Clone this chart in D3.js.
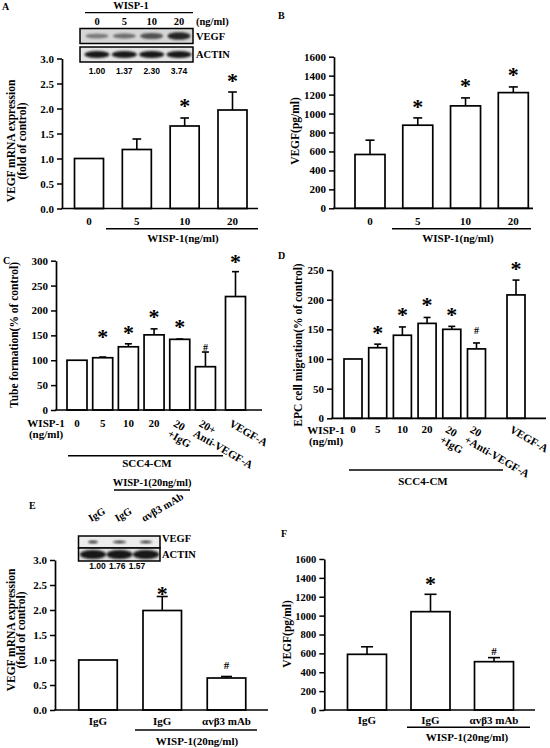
<!DOCTYPE html>
<html><head><meta charset="utf-8">
<script src="https://cdn.jsdelivr.net/npm/d3@7"></script>
<style>
body{margin:0;background:#fff}
svg text{font-family:"Liberation Serif","Times New Roman",serif;font-weight:bold;fill:#000}
svg text.sans{font-family:"Liberation Sans",Arial,sans-serif}
</style>
</head><body>
<svg id="chart" width="550" height="748"></svg>
<script>
// ---------------- DATA ----------------
// Panel A
const aCategories = ["0","5","10","20"];
const aValues = [1.00,1.18,1.65,1.97];
const aErrors = [0,0.21,0.16,0.36];
const aMarks = ["","","*","*"];
const aMarkY = [null,null,2.13,2.63];
const aYTicks = [0,0.5,1.0,1.5,2.0,2.5,3.0];
const aBlotLanes = ["0","5","10","20"];
const aBlotRatios = [1.00,1.37,2.30,3.74];
// Panel B
const bCategories = ["0","5","10","20"];
const bValues = [568,877,1081,1221];
const bErrors = [151,77,84,60];
const bMarks = ["","*","*","*"];
const bMarkY = [null,1108,1329,1445];
const bYTicks = [0,200,400,600,800,1000,1200,1400,1600];
// Panel C
const cCategories = [["0"],["5"],["10"],["20"],["20","+IgG"],["20+","Anti-VEGF-A"],["VEGF-A"]];
const cValues = [100,105,127,151,142,87,228];
const cErrors = [0,1.5,6,12,0.6,29.5,50];
const cMarks = ["","*","*","*","*","#","*"];
const cMarkY = [null,154.7,162.7,194.3,174.2,126,304.8];
const cYTicks = [0,50,100,150,200,250,300];
// Panel D
const dCategories = [["0"],["5"],["10"],["20"],["20","+IgG"],["20","+Anti-VEGF-A"],["VEGF-A"]];
const dValues = [100,119,140,160,150,117,208];
const dErrors = [0,6,14,10,5,10,25];
const dMarks = ["","*","*","*","*","#","*"];
const dMarkY = [null,149,180,197,180,149,258];
const dYTicks = [0,50,100,150,200,250];
// Panel E
const eCategories = ["IgG","IgG","αvβ3 mAb"];
const eValues = [1.00,1.99,0.64];
const eErrors = [0,0.28,0.03];
const eMarks = ["","*","#"];
const eMarkY = [null,2.4,0.9];
const eYTicks = [0,0.5,1.0,1.5,2.0,2.5,3.0];
const eBlotLanes = ["IgG","IgG","αvβ3 mAb"];
const eBlotRatios = [1.00,1.76,1.57];
// Panel F
const fCategories = ["IgG","IgG","αvβ3 mAb"];
const fValues = [590,1042,512];
const fErrors = [80,184,43];
const fMarks = ["","*","#"];
const fMarkY = [null,1377,625];
const fYTicks = [0,200,400,600,800,1000,1200,1400,1600];

// ---------------- DRAWING ----------------
const svg = d3.select("#chart");
const defs = svg.append("defs");
defs.append("filter").attr("id","blur").attr("x","-50%").attr("y","-50%").attr("width","200%").attr("height","200%")
  .append("feGaussianBlur").attr("stdDeviation",0.9);

function barPanel(o){
  const g = svg.append("g");
  const y = d3.scaleLinear().domain([0, o.yMax]).range([o.y0, o.yTop]);
  const n = o.values.length;
  const slots = d3.range(n).map(i => i + (i === n-1 ? (o.lastGap||0) : 0));
  const x = d3.scaleLinear().domain([0, slots[n-1]]).range([o.xFirst, o.xLast]);
  const px = i => x(slots[i]);
  const bw = o.barW;

  // bars
  g.selectAll("rect.bar").data(o.values).join("rect")
    .attr("x",(d,i)=>px(i)-bw/2).attr("y",d=>y(d))
    .attr("width",bw).attr("height",d=>o.y0-y(d))
    .attr("fill","#fff").attr("stroke","#000").attr("stroke-width",1.7);

  // error bars
  const cap = o.capW || bw*0.3;
  const eg = g.selectAll("g.err").data(o.values.map((v,i)=>({v,e:o.errors[i],i})).filter(d=>d.e>0)).join("g");
  eg.append("line").attr("x1",d=>px(d.i)).attr("x2",d=>px(d.i)).attr("y1",d=>y(d.v)).attr("y2",d=>y(d.v+d.e))
    .attr("stroke","#000").attr("stroke-width",1.6);
  eg.append("line").attr("x1",d=>px(d.i)-cap/2).attr("x2",d=>px(d.i)+cap/2).attr("y1",d=>y(d.v+d.e)).attr("y2",d=>y(d.v+d.e))
    .attr("stroke","#000").attr("stroke-width",1.6);

  // marks
  g.selectAll("text.mark").data(o.marks.map((m,i)=>({m,i,yv:o.markY[i]})).filter(d=>d.m)).join("text")
    .attr("text-anchor","middle")
    .attr("x",d=>px(d.i))
    .attr("y",d=> d.m==="*" ? y(d.yv)+0.48*o.starSize : y(d.yv)+0.36*o.hashSize)
    .style("font-size",d=>(d.m==="*"?o.starSize:o.hashSize)+"px")
    .style("font-weight","bold")
    .text(d=>d.m);

  // y axis
  const ya = d3.axisLeft(y).tickValues(o.yTicks).tickSize(5).tickSizeOuter(0).tickPadding(3)
    .tickFormat(o.tickFmt);
  const yg = g.append("g").attr("transform",`translate(${o.axisX},0)`).call(ya);
  yg.select(".domain").attr("stroke","#000").attr("stroke-width",1.7);
  yg.selectAll(".tick line").attr("stroke","#000").attr("stroke-width",1.5);
  yg.selectAll(".tick text").attr("fill","#000").style("font-family",'"Liberation Serif",serif')
    .style("font-weight","bold").style("font-size",o.tickSize+"px");

  // x axis line
  g.append("line").attr("x1",o.axisX-0.8).attr("x2",o.xEnd).attr("y1",o.y0).attr("y2",o.y0)
    .attr("stroke","#000").attr("stroke-width",1.7);

  // y title
  const yt = g.append("text").attr("text-anchor","middle")
    .attr("transform",`translate(${o.titleX},${o.titleY}) rotate(-90)`)
    .style("font-size",o.titleSize+"px");
  o.yTitle.forEach((t,k)=>{
    yt.append("tspan").attr("x",0).attr("y", k*o.titleLine + 4).text(t);
  });

  // panel letter
  g.append("text").attr("x",o.letter[0]).attr("y",o.letter[1]).style("font-size","10px").text(o.letter[2]);

  return {g,x,y,px};
}

// ---- Blot helper ----
function blotRow(g, x0, y0, w, h, bg){
  g.append("rect").attr("x",x0).attr("y",y0).attr("width",w).attr("height",h)
    .attr("fill",bg).attr("stroke","#000").attr("stroke-width",1.5);
}
function band(g, cx, cy, w, h, color, op){
  g.append("ellipse").attr("cx",cx).attr("cy",cy).attr("rx",w/2).attr("ry",h/2)
    .attr("fill",color).attr("opacity",op).attr("filter","url(#blur)");
}

// ================= Panel A =================
const A = barPanel({
  values:aValues, errors:aErrors, marks:aMarks, markY:aMarkY, yTicks:aYTicks, yMax:3,
  y0:208.5, yTop:58.5, axisX:62, xFirst:89, xLast:232.5, barW:29, xEnd:258,
  tickFmt:d3.format(".1f"), tickSize:11, starSize:22, hashSize:11,
  yTitle:["VEGF mRNA expression","(fold of control)"], titleX:11, titleY:141, titleLine:10.5, titleSize:11.5,
  letter:[2,10,"A"]
});
A.g.selectAll("text.xl").data(aCategories).join("text").attr("text-anchor","middle")
  .attr("x",(d,i)=>A.px(i)).attr("y",224.5).style("font-size","11px").text(d=>d);
A.g.append("line").attr("x1",106).attr("x2",258).attr("y1",228.7).attr("y2",228.7).attr("stroke","#000").attr("stroke-width",1.5);
A.g.append("text").attr("text-anchor","middle").attr("x",183).attr("y",241.5).style("font-size","11px").text("WISP-1(ng/ml)");
// A blot
{
  const g = A.g;
  const laneX = d3.scalePoint().domain(aBlotLanes).range([97,179]);
  g.append("text").attr("text-anchor","middle").attr("x",131).attr("y",9).style("font-size","10.5px").text("WISP-1");
  g.append("line").attr("x1",85).attr("x2",193).attr("y1",12.7).attr("y2",12.7).attr("stroke","#000").attr("stroke-width",1.3);
  g.selectAll("text.bl").data(aBlotLanes).join("text").attr("text-anchor","middle")
    .attr("x",d=>laneX(d)).attr("y",24.5).style("font-size","10.5px").text(d=>d);
  g.append("text").attr("x",196).attr("y",24.5).style("font-size","10.5px").text("(ng/ml)");
  blotRow(g,80,28.5,113,15,"#d6d6d6");
  aBlotLanes.forEach((l,i)=> band(g, laneX(l), 36, 23, 3.5+aBlotRatios[i]*1.1, "#1a1a1a", 0.35+0.16*aBlotRatios[i]));
  blotRow(g,80,47,113,15,"#e4e4e4");
  aBlotLanes.forEach((l,i)=> band(g, laneX(l), 54.5, 25, 7, "#0a0a0a", 0.95));
  g.append("text").attr("x",196).attr("y",40).style("font-size","10.5px").text("VEGF");
  g.append("text").attr("x",196).attr("y",58).style("font-size","10.5px").text("ACTIN");
  g.selectAll("text.br").data(aBlotRatios).join("text").attr("class","sans").attr("text-anchor","middle")
    .attr("x",(d,i)=>laneX(aBlotLanes[i])).attr("y",74).style("font-size","8.5px").text(d=>d.toFixed(2));
}

// ================= Panel B =================
const B = barPanel({
  values:bValues, errors:bErrors, marks:bMarks, markY:bMarkY, yTicks:bYTicks, yMax:1600,
  y0:208.3, yTop:56.7, axisX:334, xFirst:370, xLast:513.3, barW:30, xEnd:533,
  tickFmt:d3.format("d"), tickSize:11, starSize:22, hashSize:11,
  yTitle:["VEGF(pg/ml)"], titleX:295, titleY:131, titleLine:10.5, titleSize:11.5,
  letter:[278,18.5,"B"]
});
B.g.selectAll("text.xl").data(bCategories).join("text").attr("text-anchor","middle")
  .attr("x",(d,i)=>B.px(i)).attr("y",224.5).style("font-size","11px").text(d=>d);
B.g.append("line").attr("x1",392).attr("x2",531).attr("y1",228.7).attr("y2",228.7).attr("stroke","#000").attr("stroke-width",1.5);
B.g.append("text").attr("text-anchor","middle").attr("x",458).attr("y",241.5).style("font-size","11px").text("WISP-1(ng/ml)");

// ============ helper for C / D x labels ============
function multiLabels(P, cats, yBase, rotFrom, fs){
  cats.forEach((lines,i)=>{
    if(i < rotFrom){
      P.g.append("text").attr("text-anchor","middle").attr("x",P.px(i)).attr("y",yBase).style("font-size",fs+"px").text(lines[0]);
    } else {
      const t = P.g.append("text").attr("transform",`translate(${P.px(i)-3},${yBase-8}) rotate(30)`).style("font-size",fs+"px");
      lines.forEach((l,k)=> t.append("tspan").attr("x", 0).attr("dy", k===0 ? "0.75em" : "1.05em").text(l));
    }
  });
}

// ================= Panel C =================
const C = barPanel({
  values:cValues, errors:cErrors, marks:cMarks, markY:cMarkY, yTicks:cYTicks, yMax:300,
  y0:410, yTop:260.7, axisX:56, xFirst:77, xLast:235.5, barW:20, xEnd:262, lastGap:0.17, capW:7,
  tickFmt:d3.format("d"), tickSize:11, starSize:22, hashSize:10,
  yTitle:["Tube formation(% of control)"], titleX:14, titleY:335, titleLine:10.5, titleSize:11.5,
  letter:[3,263.5,"C"]
});
multiLabels(C, cCategories, 426.5, 4, 11);
C.g.append("text").attr("text-anchor","middle").attr("x",46).attr("y",426.5).style("font-size","11px").text("WISP-1");
C.g.append("text").attr("text-anchor","middle").attr("x",46).attr("y",437.5).style("font-size","11px").text("(ng/ml)");
C.g.append("line").attr("x1",68).attr("x2",223).attr("y1",455.7).attr("y2",455.7).attr("stroke","#000").attr("stroke-width",1.5);
C.g.append("text").attr("text-anchor","middle").attr("x",147).attr("y",467).style("font-size","11px").text("SCC4-CM");

// ================= Panel D =================
const D = barPanel({
  values:dValues, errors:dErrors, marks:dMarks, markY:dMarkY, yTicks:dYTicks, yMax:250,
  y0:418.3, yTop:270, axisX:332, xFirst:353, xLast:516, barW:18, xEnd:546, lastGap:0.6, capW:7,
  tickFmt:d3.format("d"), tickSize:11, starSize:22, hashSize:10,
  yTitle:["EPC cell migration(% of control)"], titleX:298, titleY:345, titleLine:10.5, titleSize:11.5,
  letter:[278,258.5,"D"]
});
multiLabels(D, dCategories, 432.5, 4, 11);
D.g.append("text").attr("text-anchor","middle").attr("x",326).attr("y",433.5).style("font-size","11px").text("WISP-1");
D.g.append("text").attr("text-anchor","middle").attr("x",326).attr("y",445).style("font-size","11px").text("(ng/ml)");
D.g.append("line").attr("x1",349).attr("x2",503).attr("y1",470).attr("y2",470).attr("stroke","#000").attr("stroke-width",1.5);
D.g.append("text").attr("text-anchor","middle").attr("x",423).attr("y",485).style("font-size","11px").text("SCC4-CM");

// ================= Panel E =================
const E = barPanel({
  values:eValues, errors:eErrors, marks:eMarks, markY:eMarkY, yTicks:eYTicks, yMax:3,
  y0:710, yTop:560, axisX:55, xFirst:98, xLast:226.5, barW:38.5, xEnd:268, capW:11,
  tickFmt:d3.format(".1f"), tickSize:11, starSize:22, hashSize:11,
  yTitle:["VEGF mRNA expression","(fold of control)"], titleX:10.5, titleY:630, titleLine:10.5, titleSize:11.5,
  letter:[29,508.5,"E"]
});
E.g.selectAll("text.xl").data(eCategories).join("text").attr("text-anchor","middle")
  .attr("x",(d,i)=>E.px(i)).attr("y",724.5).style("font-size","11px").text(d=>d);
E.g.append("line").attr("x1",135).attr("x2",257).attr("y1",730).attr("y2",730).attr("stroke","#000").attr("stroke-width",1.5);
E.g.append("text").attr("text-anchor","middle").attr("x",197).attr("y",744.5).style("font-size","11px").text("WISP-1(20ng/ml)");
// E blot
{
  const g = E.g;
  const laneX = d3.scalePoint().domain(d3.range(eBlotLanes.length)).range([93,146]);
  g.append("text").attr("text-anchor","middle").attr("x",152).attr("y",486).style("font-size","10.5px").text("WISP-1(20ng/ml)");
  g.append("line").attr("x1",114).attr("x2",190).attr("y1",490).attr("y2",490).attr("stroke","#000").attr("stroke-width",1.3);
  eBlotLanes.forEach((l,i)=>{
    g.append("text").attr("transform",`translate(${laneX(i)-2},${522}) rotate(-30)`).style("font-size","10.5px").text(l);
  });
  blotRow(g,78.5,536,81.5,12,"#ececec");
  eBlotLanes.forEach((l,i)=> band(g, laneX(i), 542, 4+5.5*eBlotRatios[i], 2.4, "#111", 0.9));
  blotRow(g,78.5,548,81.5,13,"#dcdcdc");
  eBlotLanes.forEach((l,i)=> band(g, laneX(i), 554.5, 26, 9, "#0a0a0a", 0.95));
  g.append("text").attr("x",162).attr("y",542).style("font-size","10.5px").text("VEGF");
  g.append("text").attr("x",162).attr("y",558).style("font-size","10.5px").text("ACTIN");
  const numX = d3.scalePoint().domain(d3.range(eBlotRatios.length)).range([97.5,137]);
  g.selectAll("text.br").data(eBlotRatios).join("text").attr("class","sans").attr("text-anchor","middle")
    .attr("x",(d,i)=>numX(i)).attr("y",568.5).style("font-size","8.5px").text(d=>d.toFixed(2));
}

// ================= Panel F =================
const F = barPanel({
  values:fValues, errors:fErrors, marks:fMarks, markY:fMarkY, yTicks:fYTicks, yMax:1600,
  y0:710, yTop:559, axisX:324.3, xFirst:367, xLast:494, barW:39, xEnd:535, capW:12,
  tickFmt:d3.format("d"), tickSize:10.5, starSize:22, hashSize:11,
  yTitle:["VEGF(pg/ml)"], titleX:287, titleY:634, titleLine:10.5, titleSize:11.5,
  letter:[281,537,"F"]
});
F.g.selectAll("text.xl").data(fCategories).join("text").attr("text-anchor","middle")
  .attr("x",(d,i)=>F.px(i)).attr("y",724).style("font-size","11px").text(d=>d);
F.g.append("line").attr("x1",407).attr("x2",530).attr("y1",727.3).attr("y2",727.3).attr("stroke","#000").attr("stroke-width",1.5);
F.g.append("text").attr("text-anchor","middle").attr("x",467).attr("y",740.5).style("font-size","11px").text("WISP-1(20ng/ml)");
</script>
</body></html>
